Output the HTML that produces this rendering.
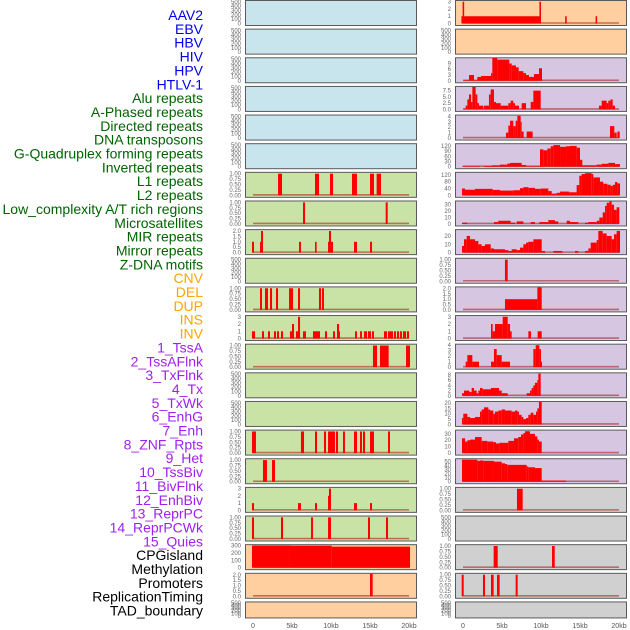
<!DOCTYPE html>
<html><head><meta charset="utf-8"><style>
html,body{margin:0;padding:0;background:#fff;}
svg{display:block;}
</style></head><body>
<svg id="chart" width="630" height="630" viewBox="0 0 630 630" xmlns="http://www.w3.org/2000/svg" font-family="Liberation Sans, sans-serif">
<g id="labels"></g>
<g id="panels"></g>
<g id="xaxis"></g>
</svg>
<script>
// ---- labels ----
const trackLabels = ["AAV2","EBV","HBV","HIV","HPV","HTLV-1","Alu repeats","A-Phased repeats","Directed repeats","DNA transposons","G-Quadruplex forming repeats","Inverted repeats","L1 repeats","L2 repeats","Low_complexity A/T rich regions","Microsatellites","MIR repeats","Mirror repeats","Z-DNA motifs","CNV","DEL","DUP","INS","INV","1_TssA","2_TssAFlnk","3_TxFlnk","4_Tx","5_TxWk","6_EnhG","7_Enh","8_ZNF_Rpts","9_Het","10_TssBiv","11_BivFlnk","12_EnhBiv","13_ReprPC","14_ReprPCWk","15_Quies","CPGisland","Methylation","Promoters","ReplicationTiming","TAD_boundary"];
const labelGroups = [6,13,5,15,5];
const xTickValues = [0,5,10,15,20];
const xTickLabels = ["0","5kb","10kb","15kb","20kb"];

// ---- tick sets ----
const tickE = [0,100,200,300,400,500], tickELab = ["0","100","200","300","400","500"];
const tickP1 = [0,0.25,0.5,0.75,1], tickP1Lab = ["0.00","0.25","0.50","0.75","1.00"];
const tickT2 = [0,0.5,1,1.5,2], tickT2Lab = ["0.0","0.5","1.0","1.5","2.0"];
const tickT3 = [0,1,2,3], tickT3Lab = ["0","1","2","3"];
const tickT4 = [0,1,2,3,4], tickT4Lab = ["0","1","2","3","4"];
const tickHIV = [0,3,6,9], tickHIVLab = ["0","3","6","9"];
const tickR3 = [0,2.5,5,7.5], tickR3Lab = ["0.0","2.5","5.0","7.5"];
const tickR5 = [0,30,60,90,120], tickR5Lab = ["0","30","60","90","120"];
const tickR6 = [0,40,80,120], tickR6Lab = ["0","40","80","120"];
const tickR7 = [0,10,20,30], tickR7Lab = ["0","10","20","30"];
const tickR8 = [0,10,20], tickR8Lab = ["0","10","20"];
const tickR13 = [0,2,4,6,8], tickR13Lab = ["0","2","4","6","8"];
const tickR14 = [0,5,10,15,20], tickR14Lab = ["0","5","10","15","20"];
const tickR16 = [0,10,20,30,40,50], tickR16Lab = ["0","10","20","30","40","50"];
const tickCPG = [0,100,200,300], tickCPGLab = ["0","100","200","300"];

// ---- left column data: [startKb, endKb, value] ----
const L6 = [[3.21,3.72,1],[7.95,8.46,1],[9.87,10.26,1],[12.69,13.33,1],[15.0,15.51,1],[15.85,16.41,1]];
const L7 = [[6.41,6.67,1],[17.01,17.27,1]];
const L8 = [[-0.13,0.13,1],[0.9,1.11,1],[1.03,1.28,2],[5.9,6.15,1],[7.95,8.16,1],[9.62,10.26,1],[9.74,10.0,2],[12.95,13.33,1],[15.0,15.26,1]];
const L10 = [[0.9,1.15,1],[1.54,1.92,1],[2.18,2.44,1],[2.95,3.21,1],[4.62,5.13,1],[5.77,6.03,1],[8.46,8.72,1],[8.85,9.10,1]];
const L11 = [[-0.13,0.26,1],[1.15,1.41,1],[1.92,2.18,1],[2.69,2.95,1],[3.08,3.33,1],[3.59,3.85,1],[4.74,5.26,1],[5.0,5.26,2],[5.51,6.03,1],[5.77,6.03,3],[6.41,6.79,1],[7.69,8.59,1],[9.23,9.49,1],[10.26,10.51,1],[10.77,11.15,1],[10.77,11.03,2],[13.08,13.33,1],[13.72,13.97,1],[14.23,14.62,1],[14.74,15.13,1],[15.26,15.51,1],[16.79,17.18,1],[17.31,17.95,1],[18.08,18.33,1],[18.46,18.72,1],[18.85,19.10,1],[19.23,19.62,1],[19.74,20.0,1]];
const L12 = [[15.38,15.90,1],[16.28,17.39,1],[19.62,20.13,1]];
const L15 = [[-0.13,0.38,1],[6.15,6.54,1],[7.95,8.21,1],[9.10,9.36,1],[9.62,10.51,1],[10.64,10.90,1],[11.54,11.79,1],[12.95,13.33,1],[13.72,13.97,1],[14.10,14.36,1],[15.0,15.51,1],[17.31,17.56,1]];
const L16 = [[1.28,1.79,1],[2.44,2.82,1]];
const L17 = [[-0.13,0.13,1],[5.77,6.15,1],[7.95,8.21,1],[9.62,10.0,2],[9.74,10.0,3],[12.95,13.33,1],[15.0,15.26,1]];
const L18 = [[-0.13,0.13,1],[3.59,3.85,1],[7.44,7.69,1],[9.62,10.0,1],[14.74,15.0,1],[17.05,17.31,1]];
const L19 = [[-0.13,4.74,300],[4.74,10.09,298],[10.09,20.13,285]];
const L20 = [[15.0,15.34,2.1]];

// ---- right column data ----
const R0 = [[-0.2,10.0,1],[-0.05,0.15,3],[9.8,10.0,3],[13.1,13.3,1],[17.0,17.2,1]];
const R2 = [[0.04,0.77,0.3],[0.77,1.41,3],[1.41,1.84,0.3],[1.84,2.31,2],[2.31,3.59,2.5],[3.59,3.76,4],[3.76,4.40,12],[4.40,5.94,11],[5.94,6.24,9],[6.24,6.79,8],[6.79,7.14,7],[7.14,7.74,5],[7.74,8.08,4],[8.08,8.46,3],[8.46,9.10,2],[9.10,9.74,3.5],[9.74,10.13,6.5]];
const R3 = [[0.04,0.34,0.3],[0.34,0.56,1.5],[0.56,0.77,4],[0.77,1.03,6],[1.03,1.20,3],[1.20,1.62,9],[1.62,1.84,6],[1.84,2.05,2.5],[2.05,2.61,1.5],[2.69,3.33,1.5],[3.33,3.55,6],[3.55,3.97,8],[3.97,4.23,3],[4.23,4.83,2.5],[4.83,5.81,1.5],[5.81,6.11,2.5],[6.11,6.45,3.5],[6.45,6.67,2.5],[6.67,7.18,1.5],[7.52,8.08,2.5],[8.68,9.02,3],[9.02,9.96,7.5],[17.44,17.78,1.5],[17.78,18.42,3.5],[18.42,18.63,2.5],[18.63,18.93,3.5],[18.93,19.19,4],[19.19,19.49,1.5]];
const R4 = [[5.51,5.81,1],[5.81,6.03,2.3],[6.03,6.45,3.2],[6.45,6.75,2.2],[6.75,6.97,3.2],[6.97,7.39,4.1],[7.39,7.52,3],[7.52,7.78,1.2],[8.16,8.93,1.2],[18.85,19.40,2.2],[19.40,19.70,1],[19.79,20.09,1.2]];
const R5 = [[-0.13,2.18,3],[2.69,3.68,4],[3.68,4.74,8],[4.74,5.68,12],[5.68,6.03,18],[6.03,7.52,22],[7.52,8.08,10],[8.08,9.87,3],[9.87,10.30,100],[10.30,10.81,95],[10.81,11.24,105],[11.24,11.58,118],[11.58,12.44,125],[12.44,13.21,115],[13.21,13.72,118],[13.72,14.57,120],[14.57,15.0,110],[15.0,15.30,40],[15.30,17.14,8],[17.14,17.78,12],[17.78,18.63,17],[18.63,19.49,22],[19.49,20.13,15]];
const R6 = [[-0.13,0.26,40],[0.26,1.54,33],[1.54,3.80,38],[3.80,4.74,32],[4.74,6.45,28],[6.45,7.31,30],[7.31,7.74,42],[7.74,8.38,48],[8.38,9.23,44],[9.23,9.96,38],[9.96,10.94,40],[10.94,11.37,25],[11.37,12.01,10],[12.01,12.44,15],[12.44,13.63,22],[13.63,14.57,18],[14.57,14.91,60],[14.91,15.21,115],[15.21,15.64,125],[15.64,16.50,130],[16.50,16.71,125],[16.71,17.56,105],[17.56,17.99,80],[17.99,18.50,68],[18.50,18.93,62],[18.93,19.19,55],[19.19,19.49,62],[19.49,19.79,78],[19.79,20.13,70]];
const R7 = [[-0.13,0.56,2],[3.97,4.53,3],[4.53,6.11,5],[6.11,6.67,2],[6.88,7.74,4],[8.68,9.23,3],[9.79,10.94,3],[10.94,11.79,6],[11.79,12.22,4],[13.29,13.72,5],[13.72,14.79,3],[15.64,16.07,2],[16.07,17.14,3],[17.14,17.48,5],[17.48,17.91,10],[17.91,18.21,18],[18.21,18.42,28],[18.42,18.76,33],[18.76,19.06,35],[19.06,19.36,30],[19.36,19.70,22],[19.70,20.04,26]];
const R8 = [[-0.13,0.13,8],[0.13,0.47,16],[0.47,0.90,20],[0.90,1.54,16],[1.54,1.97,14],[1.97,2.39,10],[2.39,2.82,8],[2.82,3.55,10],[3.55,3.97,5],[3.97,5.38,4],[5.38,5.81,3],[5.81,6.24,2],[6.24,6.88,4],[6.88,7.31,3],[7.31,7.74,6],[7.74,8.08,10],[8.08,8.38,12],[8.38,9.02,13],[9.02,10.09,16],[10.09,10.51,2],[11.58,12.74,2],[14.36,14.79,2],[15.64,16.07,2],[16.07,16.37,5],[16.37,17.14,12],[17.14,17.35,15],[17.35,17.91,26],[17.91,18.42,23],[18.42,19.06,20],[19.06,19.36,16],[19.36,19.70,22],[19.70,20.13,26]];
const R9 = [[5.38,5.73,1]];
const R10 = [[5.38,9.53,1],[9.53,10.09,2.1]];
const R11 = [[3.59,3.80,2],[3.80,4.10,1],[4.10,5.09,2],[5.09,5.73,3],[5.73,6.03,2],[6.03,6.24,1],[8.38,8.72,1],[9.57,10.09,1]];
const R12 = [[0.34,0.56,1],[0.56,1.20,2.2],[1.20,2.05,1],[3.59,3.97,1],[3.97,4.32,3.3],[4.32,4.96,2.2],[4.96,6.03,1],[9.02,9.32,3.3],[9.32,9.79,4],[9.79,10.0,3.3],[10.0,10.09,1]];
const R13 = [[-0.13,0.13,1],[0.13,0.81,2],[0.81,1.11,1.5],[1.11,1.41,3],[1.41,1.75,2],[1.75,1.97,1],[1.97,2.18,2],[2.18,2.52,3],[2.52,3.59,2.5],[3.59,4.62,3],[4.62,4.96,2],[4.96,5.73,1],[8.16,8.59,1],[8.59,8.80,2],[8.80,9.02,3],[9.02,9.23,4],[9.23,9.53,5],[9.53,9.66,6],[9.66,9.96,8.5]];
const R14 = [[-0.13,0.04,6],[0.04,0.56,10],[0.56,0.90,7],[0.90,1.54,6],[1.54,2.18,7],[2.18,2.39,12],[2.39,2.69,14],[2.69,3.25,16],[3.25,3.46,14],[3.46,3.89,13],[3.89,4.10,10],[4.10,4.53,12],[4.53,4.96,13],[4.96,5.38,14],[5.38,6.24,13],[6.24,6.67,12],[6.67,6.97,13],[6.97,7.18,12],[7.18,7.52,9],[7.52,7.74,7],[7.74,8.08,5],[8.08,8.38,6],[8.38,8.68,9],[8.68,9.02,11],[9.02,9.36,9],[9.36,9.53,12],[9.53,9.74,15],[9.74,10.09,21]];
const R15 = [[-0.13,0.26,23],[0.26,0.56,18],[0.56,0.90,20],[0.90,1.54,21],[1.54,2.39,25],[2.39,3.12,19],[3.12,3.89,18],[3.89,4.23,17],[4.23,4.66,15],[4.66,5.81,16],[5.81,6.54,19],[6.54,7.09,23],[7.09,7.44,25],[7.44,7.74,29],[7.74,7.95,31],[7.95,8.59,34],[8.59,9.23,30],[9.23,9.53,26],[9.53,9.74,21],[9.74,10.09,18]];
const R16 = [[-0.13,1.84,55],[1.84,2.18,52],[2.18,2.61,53],[2.61,3.97,52],[3.97,4.96,50],[4.96,5.38,46],[5.38,5.68,44],[5.68,8.16,42],[8.16,8.38,38],[8.38,9.23,36],[9.23,10.09,34],[10.09,13.21,3]];
const R17 = [[6.92,7.65,1]];
const R19 = [[3.93,4.45,1],[11.41,11.76,1]];
const R20 = [[-0.17,0.09,1],[2.56,2.82,1],[3.59,3.93,1],[4.36,4.70,1],[6.75,7.01,1]];

// ---- panel configuration (per row) ----
const leftSeries = [null,null,null,null,null,null,L6,L7,L8,null,L10,L11,L12,null,null,L15,L16,L17,L18,L19,L20,null];
const rightSeries = [R0,null,R2,R3,R4,R5,R6,R7,R8,R9,R10,R11,R12,R13,R14,R15,R16,R17,null,R19,R20,null];
const leftTickSet = [[tickE,tickELab],[tickE,tickELab],[tickE,tickELab],[tickE,tickELab],[tickE,tickELab],[tickE,tickELab],[tickP1,tickP1Lab],[tickP1,tickP1Lab],[tickT2,tickT2Lab],[tickE,tickELab],[tickP1,tickP1Lab],[tickT3,tickT3Lab],[tickP1,tickP1Lab],[tickE,tickELab],[tickE,tickELab],[tickP1,tickP1Lab],[tickP1,tickP1Lab],[tickT3,tickT3Lab],[tickP1,tickP1Lab],[tickCPG,tickCPGLab],[tickT2,tickT2Lab],[tickE,tickELab]];
const rightTickSet = [[tickT3,tickT3Lab],[tickE,tickELab],[tickHIV,tickHIVLab],[tickR3,tickR3Lab],[tickT4,tickT4Lab],[tickR5,tickR5Lab],[tickR6,tickR6Lab],[tickR7,tickR7Lab],[tickR8,tickR8Lab],[tickP1,tickP1Lab],[tickT2,tickT2Lab],[tickT3,tickT3Lab],[tickT4,tickT4Lab],[tickR13,tickR13Lab],[tickR14,tickR14Lab],[tickR7,tickR7Lab],[tickR16,tickR16Lab],[tickP1,tickP1Lab],[tickE,tickELab],[tickP1,tickP1Lab],[tickP1,tickP1Lab],[tickE,tickELab]];
const leftYmax = [520,520,520,520,520,520,1.04,1.04,2.08,520,1.04,3.1,1.04,520,520,1.04,1.04,3.1,1.04,305,2.1,520];
const rightYmax = [3.1,520,11.7,9.0,4.15,130,132,35,27,1.04,2.1,3.1,4.1,8.6,21,35,56,1.04,520,1.04,1.04,520];

const NS = "http://www.w3.org/2000/svg";
function mk(tag, attrs, parent){ const e=document.createElementNS(NS,tag); for(const k in attrs) e.setAttribute(k,attrs[k]); parent.appendChild(e); return e; }

// labels
const labelColors = ["#0000ee","#006400","#ffa500","#a020f0","#000000"];
const gl = document.getElementById("labels");
let gi = 0, cnt = 0;
trackLabels.forEach((t,i)=>{
  while(cnt >= labelGroups[gi]){ cnt -= labelGroups[gi]; gi++; }
  cnt++;
  const tx = mk("text",{x:203,y:15+13.85*i+5,"text-anchor":"end","font-size":"14",fill:labelColors[gi]},gl);
  
  
  tx.textContent = t;
});

// panels
const gp = document.getElementById("panels");
const leftColors = ["#c8e4ec","#c8e4ec","#c8e4ec","#c8e4ec","#c8e4ec","#c8e4ec","#c9e2a5","#c9e2a5","#c9e2a5","#c9e2a5","#c9e2a5","#c9e2a5","#c9e2a5","#c9e2a5","#c9e2a5","#c9e2a5","#c9e2a5","#c9e2a5","#c9e2a5","#ffcf9f","#ffcf9f","#ffcf9f"];
const rightColors = ["#ffcf9f","#ffcf9f","#d6c6e2","#d6c6e2","#d6c6e2","#d6c6e2","#d6c6e2","#d6c6e2","#d6c6e2","#d6c6e2","#d6c6e2","#d6c6e2","#d6c6e2","#d6c6e2","#d6c6e2","#d6c6e2","#d6c6e2","#d0d0d0","#d0d0d0","#d0d0d0","#d0d0d0","#d0d0d0"];

function drawPanel(col, row, series, ticks, ymax, bg){
  const px = col===0 ? 245 : 455;
  const x0 = col===0 ? 253 : 463;
  const pw = 171;
  const top = 28.64*row + 0.5;
  const h = row===21 ? 16 : 25;
  const bottom = top + h;
  const xs = kb => x0 + kb*7.8;
  const ys = v => (bottom-2) - v/ymax*(h-2.5);
  const g = mk("g",{},gp);
  
  
  const r = mk("rect",{x:px+0.5,y:top,width:pw,height:h,fill:bg,stroke:"#5a5a5a","stroke-width":"1"},g);
  
  
  ticks[0].forEach((tv,k)=>{
    const t = mk("text",{x:px-4,y:ys(tv)+2,"text-anchor":"end","font-size":"6",fill:"#666"},g);
    
    
    t.textContent = ticks[1][k];
  });
  if(series){
    const bl = mk("line",{x1:xs(0),x2:xs(20),y1:ys(0)-0.5,y2:ys(0)-0.5,stroke:"rgba(170,20,20,0.55)","stroke-width":"1.6"},g);
    
    
    series.forEach(s=>{
      const y = ys(s[2]);
      const b = mk("rect",{x:xs(s[0]),y:y,width:Math.max(1,xs(s[1])-xs(s[0])),height:Math.max(0.5,ys(0)-y),fill:"#ff0000"},g);
      
      
    });
  }
}
for(let r=0;r<22;r++){
  drawPanel(0,r,leftSeries[r],leftTickSet[r],leftYmax[r],leftColors[r]);
  drawPanel(1,r,rightSeries[r],rightTickSet[r],rightYmax[r],rightColors[r]);
}

// x axis
const gx = document.getElementById("xaxis");
[253,463].forEach(x0=>{
  xTickValues.forEach((v,k)=>{
    const t = mk("text",{x:x0+v*7.8,y:628,"text-anchor":"middle","font-size":"7",fill:"#555"},gx);
    
    
    t.textContent = xTickLabels[k];
  });
});
</script>
</body></html>
